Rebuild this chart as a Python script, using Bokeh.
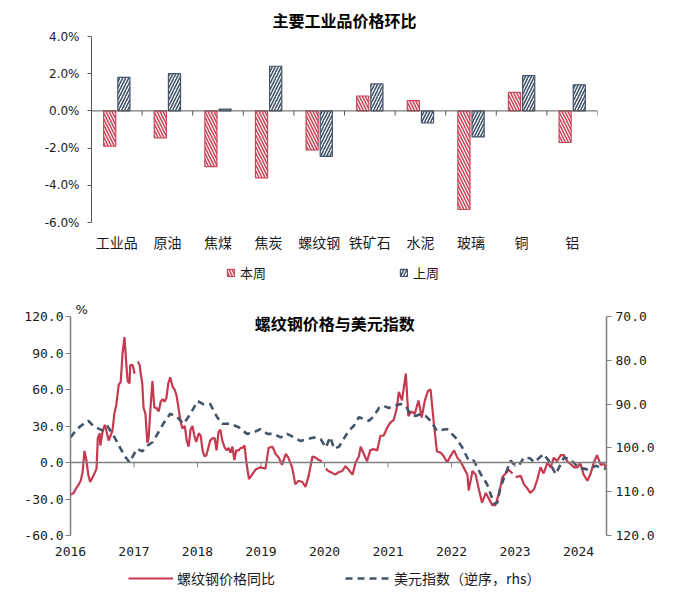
from bokeh.plotting import figure
from bokeh.models import (Range1d, LinearAxis, FixedTicker, PrintfTickFormatter, Span,
                          Label, Legend, LegendItem, ColumnDataSource)
from bokeh.layouts import column
from bokeh.embed import file_html
from bokeh.resources import INLINE
import numpy as np

nan = float("nan")

# ---------------- top chart data ----------------
categories = ["工业品", "原油", "焦煤", "焦炭", "螺纹钢", "铁矿石", "水泥", "玻璃", "铜", "铝"]
this_week = [-1.9, -1.45, -3.0, -3.6, -2.1, 0.8, 0.55, -5.3, 1.0, -1.7]
last_week = [1.8, 2.0, 0.1, 2.4, -2.45, 1.45, -0.65, -1.4, 1.9, 1.4]
top_yticks = [-6, -4, -2, 0, 2, 4]

# ---------------- bottom chart data ----------------
rebar_dates = [
    2016.00, 2016.05, 2016.08, 2016.13, 2016.16, 2016.19, 2016.22, 2016.25, 2016.28, 2016.31,
    2016.36, 2016.41, 2016.43, 2016.46, 2016.47, 2016.50, 2016.54, 2016.57, 2016.60, 2016.63,
    2016.66, 2016.69, 2016.72, 2016.76, 2016.79, 2016.82, 2016.85, 2016.88, 2016.90, 2016.93,
    2016.94, 2016.98, 2017.01, 2017.04, 2017.06, 2017.09, 2017.10, 2017.13, 2017.15, 2017.18,
    2017.21, 2017.23, 2017.26, 2017.29, 2017.32, 2017.35, 2017.39, 2017.42, 2017.45, 2017.48,
    2017.51, 2017.54, 2017.57, 2017.61, 2017.64, 2017.67, 2017.70, 2017.73, 2017.76, 2017.80,
    2017.83, 2017.86, 2017.89, 2017.92, 2017.95, 2017.98, 2018.02, 2018.05, 2018.08, 2018.11,
    2018.14, 2018.17, 2018.20, 2018.24, 2018.27, 2018.30, 2018.33, 2018.36, 2018.39, 2018.43,
    2018.46, 2018.49, 2018.52, 2018.55, 2018.58, 2018.61, 2018.65, 2018.68, 2018.71, 2018.74,
    2018.77, 2018.81, 2018.86, 2018.91, 2018.99, 2019.07, 2019.12, 2019.18, 2019.23, 2019.28,
    2019.33, 2019.39, 2019.43, 2019.49, 2019.54, 2019.59, 2019.65, 2019.70, 2019.75, 2019.81,
    2019.86, 2019.91, 2019.96, 2019.98, 2020.02, 2020.06, 2020.12, 2020.17, 2020.22, 2020.28,
    2020.33, 2020.38, 2020.44, 2020.49, 2020.54, 2020.57, 2020.61, 2020.67, 2020.72, 2020.77,
    2020.83, 2020.88, 2020.93, 2020.99, 2021.04, 2021.09, 2021.14, 2021.17, 2021.22, 2021.28,
    2021.32, 2021.37, 2021.42, 2021.48, 2021.53, 2021.58, 2021.63, 2021.67, 2021.72, 2021.77,
    2021.83, 2021.88, 2021.93, 2021.98, 2022.04, 2022.09, 2022.14, 2022.19, 2022.25, 2022.27,
    2022.33, 2022.38, 2022.43, 2022.48, 2022.54, 2022.59, 2022.64, 2022.69, 2022.75, 2022.80,
    2022.85, 2022.90, 2022.96, 2022.98, 2023.01, 2023.09, 2023.14, 2023.19, 2023.24, 2023.30,
    2023.35, 2023.40, 2023.45, 2023.51, 2023.56, 2023.61, 2023.66, 2023.72, 2023.77, 2023.82,
    2023.87, 2023.93, 2023.98, 2024.03, 2024.08, 2024.14, 2024.19, 2024.24, 2024.29, 2024.35,
    2024.40, 2024.43,
]
rebar_yoy = [
    -26.5, -25, -22, -18, -15, -8, 9.5, 2, -10, -16,
    -11, -5, 20, 24, 14, 24, 31, 25, 18, 22,
    26, 40, 47, 64, 66, 90, 103, 80, 67, 65,
    80, 80, 73, nan, 83, 80, 75, 65, 45, 40,
    16, 20, 45, 67, 45, 45, 42, 50, 52, 50,
    53, 65, 70, 62, 60, 55, 45, 35, 28, 30,
    18, 13, 27, 30, 22, 17, 24, 22, 10, 5,
    6, 12, 18, 20, 20, 10, 25, 27, 18, 12,
    10, 12, 8, 13, 2, 10, 10, 12, 12, 14,
    0, -13.7, -10, -6, -4, -5, 12, 13, 7, 4,
    -2, 7, 4, -4, -18, -15, -16, -20, -11, 5,
    4, 2, 1, nan, -5, -7, -8.5, -10, -8, -7,
    -3, -6, -10, 0, 5, 13, 8, 1, 10, 11,
    10, 22, 22, 29, 33, 35, 45, 58, 51, 73,
    38, 42, 40, 51, 37, 51, 59, 60, 33, 9,
    8, 5, 0, 5, 10, 4, 1, -4, -10, -23,
    -7, -10, -22, -33, -25, -30, -35, -35, -25, -12,
    -9, -6, -9, nan, -12, -11, -18, -21, -25, -22,
    -14, -4, -9, 0, -4, 4, 1, 6, 6, 1,
    -1, -4, -4, -1, -10, -15, -9, 0, 6, -2,
    -1, -4,
]

usd_dates = [
    2016.00, 2016.08, 2016.16, 2016.28, 2016.36, 2016.50, 2016.58, 2016.66, 2016.71, 2016.79,
    2016.87, 2016.93, 2017.00, 2017.05, 2017.13, 2017.21, 2017.29, 2017.37, 2017.46, 2017.57,
    2017.68, 2017.78, 2017.89, 2018.00, 2018.09, 2018.20, 2018.31, 2018.39, 2018.52, 2018.65,
    2018.78, 2018.88, 2018.99, 2019.10, 2019.20, 2019.31, 2019.41, 2019.52, 2019.62, 2019.73,
    2019.83, 2019.94, 2020.02, 2020.09, 2020.15, 2020.23, 2020.30, 2020.38, 2020.46, 2020.54,
    2020.62, 2020.70, 2020.78, 2020.86, 2020.93, 2021.01, 2021.09, 2021.20, 2021.28, 2021.35,
    2021.43, 2021.51, 2021.59, 2021.67, 2021.77, 2021.84, 2021.93, 2022.06, 2022.17, 2022.27,
    2022.35, 2022.46, 2022.56, 2022.67, 2022.72, 2022.77, 2022.85, 2022.93, 2022.98, 2023.06,
    2023.14, 2023.24, 2023.30, 2023.45, 2023.53, 2023.64, 2023.77, 2023.87, 2024.00, 2024.14,
    2024.27, 2024.43,
]
usd_index = [
    97.6, 96.1, 95.0, 93.8, 95.0, 96.0, 95.0, 96.8, 98.0, 100.2,
    102.2, 103.3, 101.4, 100.2, 100.8, 99.5, 98.7, 96.8, 94.5, 92.2,
    93.0, 94.5, 92.2, 89.3, 90.0, 90.0, 93.0, 94.5, 94.5, 95.3,
    96.8, 96.5, 95.7, 96.8, 96.8, 97.6, 96.8, 97.6, 98.4, 98.0,
    97.6, 98.0, 99.9, 97.5, 100.2, 99.7, 98.0, 96.1, 95.0, 93.0,
    93.4, 93.8, 92.7, 90.8, 90.4, 90.9, 90.4, 90.0, 90.4, 92.3,
    92.7, 92.3, 92.7, 93.8, 96.1, 95.9, 95.7, 97.6, 99.9, 102.9,
    102.9, 106.0, 108.3, 112.8, 112.5, 109.0, 106.0, 102.9, 103.7, 104.0,
    102.2, 102.4, 103.3, 101.4, 102.9, 106.0, 102.2, 102.6, 104.5, 104.9,
    104.1, 104.8,
]
year_ticks = [2016, 2017, 2018, 2019, 2020, 2021, 2022, 2023, 2024]
left_ticks = [-60, -30, 0, 30, 60, 90, 120]
right_ticks = [70, 80, 90, 100, 110, 120]

RED_BAR = "#C9485B"
RED_LINE = "#C63A4F"
DARK = "#44546A"
AXIS = "#7F7F7F"
CJK = "Noto Sans CJK SC"
TXT = "#1a1a1a"
NUM = "DejaVu Sans Mono"

bar_red_style = dict(fill_color="white", line_color=RED_BAR, line_width=1.2,
                     hatch_pattern="left_diagonal_line", hatch_color=RED_BAR,
                     hatch_scale=6, hatch_weight=1.6)
bar_dark_style = dict(fill_color="white", line_color=DARK, line_width=1.2,
                      hatch_pattern="right_diagonal_line", hatch_color=DARK,
                      hatch_scale=6, hatch_weight=1.6)
red_line_style = dict(line_color=RED_LINE, line_width=2.2)
dark_line_style = dict(line_color=DARK, line_width=2.6, line_dash="7 5")


def legend_strip(height):
    # an empty strip whose frame holds only the legend (key glyphs sit outside its range)
    f = figure(width=677, height=height, x_range=Range1d(0, 1), y_range=Range1d(0, 1),
               output_backend="svg", toolbar_location=None, min_border=0,
               x_axis_location=None, y_axis_location=None)
    f.outline_line_color = None
    f.grid.visible = False
    f.frame_align = False
    return f


# ================= top chart =================
n = len(categories)
centers = np.arange(n) + 0.5
src = ColumnDataSource(dict(xa=centers - 0.14, xb=centers + 0.14, a=this_week, b=last_week))

p1 = figure(width=677, height=255, x_range=Range1d(0, n), y_range=Range1d(-6, 4),
            output_backend="svg", toolbar_location=None,
            min_border_left=91, min_border_right=80, min_border_top=34, min_border_bottom=33)
p1.outline_line_color = None
p1.grid.visible = False
p1.frame_align = False

p1.vbar(x="xa", top="a", bottom=0, width=0.24, source=src, **bar_red_style)
p1.vbar(x="xb", top="b", bottom=0, width=0.24, source=src, **bar_dark_style)

p1.add_layout(Span(location=0, dimension="width", line_color="#595959", line_width=1))
bounds = list(range(1, n + 1))
p1.segment(x0=bounds, y0=[0] * len(bounds), x1=bounds, y1=[-0.25] * len(bounds),
           line_color="#595959", line_width=1)

p1.title.text = "主要工业品价格环比"
p1.title.align = "center"
p1.title.text_font = CJK
p1.title.text_font_size = "16px"
p1.title.text_font_style = "bold"
p1.title.text_color = "black"

ya = p1.yaxis[0]
ya.ticker = FixedTicker(ticks=top_yticks)
ya.formatter = PrintfTickFormatter(format="%.1f%%")
ya.axis_line_color = "#595959"
ya.major_tick_line_color = "#595959"
ya.major_tick_out = 4
ya.major_tick_in = 0
ya.minor_tick_line_color = None
ya.major_label_text_font = "DejaVu Sans"
ya.major_label_text_font_size = "12px"
ya.major_label_text_color = TXT
ya.major_label_standoff = 8

xa = p1.xaxis[0]
xa.ticker = FixedTicker(ticks=list(centers))
xa.major_label_overrides = {float(c): categories[i] for i, c in enumerate(centers)}
xa.axis_line_color = None
xa.major_tick_line_color = None
xa.minor_tick_line_color = None
xa.major_label_text_font = CJK
xa.major_label_text_font_size = "14px"
xa.major_label_text_color = TXT
xa.major_label_standoff = 3

# legend strip for top chart
lg1 = legend_strip(35)
k1 = lg1.vbar(x=[5], top=[5], bottom=[4], width=0.1, **bar_red_style)
k2 = lg1.vbar(x=[5], top=[5], bottom=[4], width=0.1, **bar_dark_style)
lg1.add_layout(Legend(items=[LegendItem(label="本周", renderers=[k1]),
                             LegendItem(label="上周", renderers=[k2])],
                      orientation="horizontal", location=(226, 8), glyph_width=9, glyph_height=9,
                      spacing=133, label_standoff=5, label_text_font=CJK,
                      label_text_font_size="13px", label_text_color=TXT,
                      border_line_color=None, background_fill_alpha=0,
                      margin=0, padding=4, label_height=17))

# ================= bottom chart =================
p2 = figure(width=677, height=270, x_range=Range1d(2016, 2024.44), y_range=Range1d(-60, 120),
            output_backend="svg", toolbar_location=None,
            min_border_left=70, min_border_right=71, min_border_top=26, min_border_bottom=25)
p2.outline_line_color = None
p2.grid.visible = False
p2.frame_align = False
p2.extra_y_ranges = {"usd": Range1d(120, 70)}

p2.add_layout(Span(location=0, dimension="width", line_color=AXIS, line_width=1.5))
inner_years = year_ticks[1:]
p2.segment(x0=inner_years, y0=[0] * len(inner_years), x1=inner_years, y1=[-4] * len(inner_years),
           line_color=AXIS, line_width=1)

p2.line(rebar_dates, rebar_yoy, **red_line_style)
p2.line(usd_dates, usd_index, y_range_name="usd", **dark_line_style)

p2.title.text = "%"
p2.title.align = "left"
p2.title.offset = 5
p2.title.standoff = 0
p2.title.text_font = "DejaVu Sans"
p2.title.text_font_size = "13px"
p2.title.text_font_style = "normal"
p2.title.text_color = TXT

la = p2.yaxis[0]
la.ticker = FixedTicker(ticks=left_ticks)
la.formatter = PrintfTickFormatter(format="%.1f")
la.axis_line_color = AXIS
la.axis_line_width = 1.5
la.major_tick_line_color = AXIS
la.major_tick_out = 5
la.major_tick_in = 0
la.minor_tick_line_color = None
la.major_label_text_font = NUM
la.major_label_text_font_size = "13px"
la.major_label_text_color = TXT
la.major_label_standoff = 2

ra = LinearAxis(y_range_name="usd", ticker=FixedTicker(ticks=right_ticks),
                formatter=PrintfTickFormatter(format="%.1f"))
ra.axis_line_color = AXIS
ra.axis_line_width = 1.5
ra.major_tick_line_color = AXIS
ra.major_tick_out = 5
ra.major_tick_in = 0
ra.minor_tick_line_color = None
ra.major_label_text_font = NUM
ra.major_label_text_font_size = "13px"
ra.major_label_text_color = TXT
ra.major_label_standoff = 4
p2.add_layout(ra, "right")

bx = p2.xaxis[0]
bx.ticker = FixedTicker(ticks=year_ticks)
bx.formatter = PrintfTickFormatter(format="%d")
bx.axis_line_color = None
bx.major_tick_line_color = None
bx.minor_tick_line_color = None
bx.major_label_text_font = NUM
bx.major_label_text_font_size = "13px"
bx.major_label_text_color = TXT
bx.major_label_standoff = 5

p2.add_layout(Label(x=2020.16, y=114.8, text="螺纹钢价格与美元指数", text_align="center",
                    text_baseline="middle", text_font=CJK, text_font_size="16px",
                    text_font_style="bold", text_color="black"))

# legend strip for bottom chart
lg2 = legend_strip(40)
m1 = lg2.line(x=[5, 6], y=[5, 5], **red_line_style)
m2 = lg2.line(x=[5, 6], y=[5, 5], **dark_line_style)
lg2.add_layout(Legend(items=[LegendItem(label="螺纹钢价格同比", renderers=[m1]),
                             LegendItem(label="美元指数（逆序，rhs）", renderers=[m2])],
                      orientation="horizontal", location=(128, 12), glyph_width=45,
                      glyph_height=14, spacing=70, label_standoff=4, label_text_font=CJK,
                      label_text_font_size="14px", label_text_color=TXT,
                      border_line_color=None, background_fill_alpha=0,
                      margin=0, padding=5, label_height=17))

layout = column(p1, lg1, p2, lg2, spacing=0)
open("out.html", "w").write(file_html(layout, INLINE))
